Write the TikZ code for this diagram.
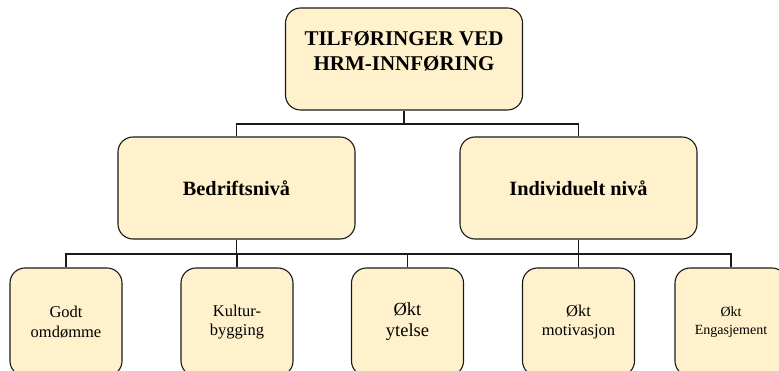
\documentclass[tikz,border=0pt]{standalone}
\usepackage{fontspec}
\setmainfont{Liberation Serif}
\definecolor{boxfill}{HTML}{FFF1CB}
\definecolor{boxline}{HTML}{1A1A1A}
\tikzset{
  card/.style={draw=boxline, line width=1.1pt, fill=boxfill, rounded corners=15pt,
               inner sep=0pt, align=center},
  topcard/.style={card, minimum width=237pt, minimum height=102pt},
  midcard/.style={card, minimum width=237pt, minimum height=102pt,
                  font=\fontsize{20.3}{25}\selectfont\bfseries},
  leafcard/.style={card, minimum width=112pt, minimum height=108pt,
                   font=\fontsize{16.5}{19.5}\selectfont},
  link/.style={draw=boxline, line width=1.1pt}
}
\begin{document}
\begin{tikzpicture}[x=1pt,y=-1pt]
\useasboundingbox (0,0) rectangle (779,371);
\clip (0,0) rectangle (779,371);

% head of the chart
\node[topcard] (top) at (404,59) {};
\node[align=center, font=\fontsize{21}{25.5}\selectfont\bfseries] (toptext) at (404,51)
  {TILFØRINGER VED\\HRM-INNFØRING};

% second level
\node[midcard] (bed) at (236.5,188) {Bedriftsnivå};
\node[midcard] (ind) at (578.5,188) {Individuelt nivå};

% third level
\node[leafcard] (l1) at (66,322) {Godt\\omdømme};
\node[leafcard] (l2) at (237,322) {Kultur-\\bygging};
\node[leafcard, font=\fontsize{18.5}{21}\selectfont] (l3) at (407.5,322) {Økt\\ytelse};
\node[leafcard] (l4) at (578.5,322) {Økt\\motivasjon};
\node[leafcard, font=\fontsize{14}{18}\selectfont] (l5) at (731,322) {Økt\\Engasjement};

% connectors: head to second level
\coordinate (busA) at (404,124);
\draw[link] (top.south) -- (busA);
\draw[link] (bed.north) |- (busA) -| (ind.north);

% connectors: second level to third level
\coordinate (busB) at (407.5,254);
\draw[link] (l1.north) |- (busB) -| (l5.north);
\draw[link] (bed.south) -- (bed.south |- busB);
\draw[link] (ind.south) -- (ind.south |- busB);
\draw[link] (l2.north) -- (l2.north |- busB);
\draw[link] (l3.north) -- (l3.north |- busB);
\draw[link] (l4.north) -- (l4.north |- busB);
\end{tikzpicture}
\end{document}
